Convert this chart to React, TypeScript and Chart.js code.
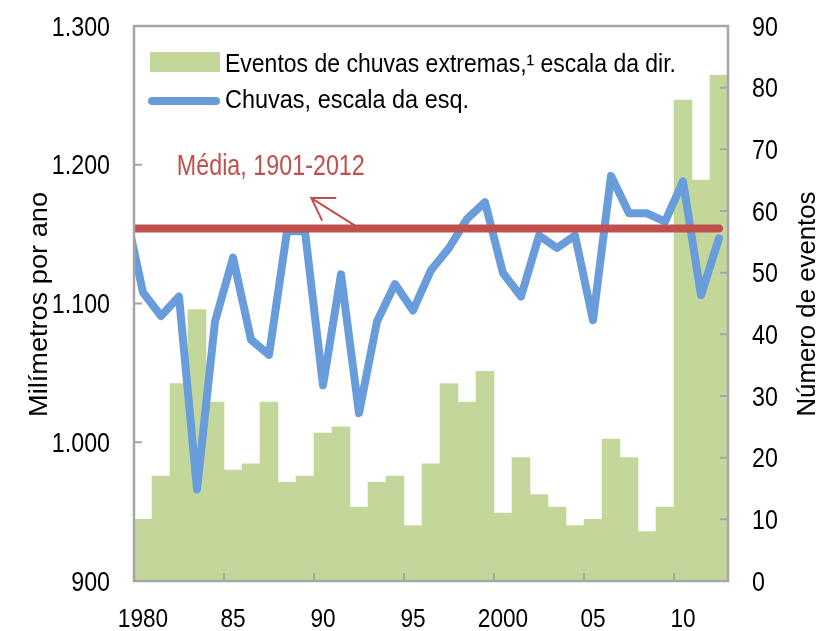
import React, { useEffect, useRef } from 'react';
import { Chart, registerables } from 'chart.js';

Chart.register(...registerables);

// ---------- data ----------
const years = [
  1980, 1981, 1982, 1983, 1984, 1985, 1986, 1987, 1988, 1989,
  1990, 1991, 1992, 1993, 1994, 1995, 1996, 1997, 1998, 1999,
  2000, 2001, 2002, 2003, 2004, 2005, 2006, 2007, 2008, 2009,
  2010, 2011, 2012,
];
const extremeEvents = [
  10, 17, 32, 44, 29, 18, 19, 29, 16, 17,
  24, 25, 12, 16, 17, 9, 19, 32, 29, 34,
  11, 20, 14, 12, 9, 10, 23, 20, 8, 12,
  78, 65, 82,
];
// rainfall series (mm/year); the 1979 value only shows as the clipped start of the line
const rainYears = [
  1979, 1980, 1981, 1982, 1983, 1984, 1985, 1986, 1987, 1988, 1989,
  1990, 1991, 1992, 1993, 1994, 1995, 1996, 1997, 1998, 1999,
  2000, 2001, 2002, 2003, 2004, 2005, 2006, 2007, 2008, 2009,
  2010, 2011, 2012,
];
const rainfall = [
  1168, 1108, 1091, 1105, 966, 1087, 1133, 1074, 1063, 1152, 1152,
  1041, 1121, 1021, 1087, 1114, 1095, 1124, 1140, 1161, 1173,
  1122, 1105, 1149, 1140, 1149, 1088, 1192, 1165, 1165, 1159,
  1188, 1106, 1147,
];
const meanValue = 1154;
const meanSpan = [1979.5, 2012];

const xTickYears = [1980, 1985, 1990, 1995, 2000, 2005, 2010];
const xTickLabels = ['1980', '85', '90', '95', '2000', '05', '10'];
const leftTicks = [900, 1000, 1100, 1200, 1300];
const leftTickLabels = ['900', '1.000', '1.100', '1.200', '1.300'];
const rightTicks = [0, 10, 20, 30, 40, 50, 60, 70, 80, 90];
const rightTickLabels = ['0', '10', '20', '30', '40', '50', '60', '70', '80', '90'];

const legendLabels = ['Eventos de chuvas extremas,\u00b9 escala da dir.', 'Chuvas, escala da esq.'];
const leftTitle = 'Milímetros por ano';
const rightTitle = 'Número de eventos';
const meanLabel = 'Média, 1901-2012';
// annotation anchors in data units (year, mm)
const meanLabelAnchor = { x: 1987.1, y: 1192.6 };
const arrowTip = { x: 1989.35, y: 1176 };
const arrowTail = { x: 1991.8, y: 1156 };

// ---------- styles ----------
const GREEN = '#C4D79B';
const BLUE = '#689CDA';
const RED = '#C0504D';
const AXIS_GRAY = '#A6A6A6';
const SANS = "'Liberation Sans', Arial, sans-serif";

// draw text with a horizontal squeeze (the source uses condensed lettering)
function drawText(
  ctx: CanvasRenderingContext2D, text: string, x: number, y: number, size: number,
  opts: { width?: number; squeeze?: number; align?: 'left' | 'center' | 'right'; color?: string; rot?: number },
) {
  ctx.save();
  ctx.font = `${size}px ${SANS}`;
  ctx.fillStyle = opts.color || '#000';
  ctx.textBaseline = 'alphabetic';
  ctx.textAlign = opts.align || 'left';
  const w = ctx.measureText(text).width;
  const k = opts.width ? opts.width / w : (opts.squeeze || 1);
  ctx.translate(x, y);
  if (opts.rot) ctx.rotate(opts.rot);
  ctx.scale(k, 1);
  ctx.fillText(text, 0, 0);
  ctx.restore();
}

const decorPlugin = {
  id: 'decor',
  afterDatasetsDraw(chart: any) {
    const { ctx, chartArea: a, scales } = chart;
    const x = scales.x, y = scales.y, y1 = scales.y1;
    ctx.save();
    // plot frame
    ctx.strokeStyle = AXIS_GRAY;
    ctx.lineWidth = 2.5;
    ctx.strokeRect(a.left, a.top, a.right - a.left, a.bottom - a.top);
    // inside tick marks
    ctx.lineWidth = 2;
    ctx.beginPath();
    leftTicks.forEach((v) => {
      const py = y.getPixelForValue(v);
      ctx.moveTo(a.left, py); ctx.lineTo(a.left + 8, py);
    });
    rightTicks.forEach((v) => {
      const py = y1.getPixelForValue(v);
      ctx.moveTo(a.right - 8, py); ctx.lineTo(a.right, py);
    });
    xTickYears.forEach((v) => {
      const px = x.getPixelForValue(v - 0.5);
      ctx.moveTo(px, a.bottom); ctx.lineTo(px, a.bottom - 8);
    });
    ctx.stroke();

    // mean annotation arrow
    const tx = x.getPixelForValue(arrowTip.x), ty = y.getPixelForValue(arrowTip.y);
    const sx = x.getPixelForValue(arrowTail.x), sy = y.getPixelForValue(arrowTail.y);
    const ang = Math.atan2(sy - ty, sx - tx);
    ctx.strokeStyle = RED;
    ctx.lineWidth = 2;
    ctx.beginPath();
    ctx.moveTo(sx, sy); ctx.lineTo(tx, ty);
    ctx.moveTo(tx + 25 * Math.cos(ang - 0.56), ty + 25 * Math.sin(ang - 0.56));
    ctx.lineTo(tx, ty);
    ctx.lineTo(tx + 25 * Math.cos(ang + 0.56), ty + 25 * Math.sin(ang + 0.56));
    ctx.stroke();
    ctx.restore();

    // mean label
    drawText(ctx, meanLabel, x.getPixelForValue(meanLabelAnchor.x), y.getPixelForValue(meanLabelAnchor.y), 29,
      { width: 188, align: 'center', color: RED });

    // tick labels, placed through the scales
    leftTicks.forEach((v, i) => {
      drawText(ctx, leftTickLabels[i], a.left - 24, y.getPixelForValue(v) + 9.5, 28, { squeeze: 0.83, align: 'right' });
    });
    rightTicks.forEach((v, i) => {
      drawText(ctx, rightTickLabels[i], a.right + 24, y1.getPixelForValue(v) + 9.5, 28, { squeeze: 0.83, align: 'left' });
    });
    xTickYears.forEach((v, i) => {
      drawText(ctx, xTickLabels[i], x.getPixelForValue(v), a.bottom + 45.5, 26, { squeeze: 0.87, align: 'center' });
    });
  },
  afterDraw(chart: any) {
    const { ctx } = chart;
    ctx.save();
    // legend
    ctx.fillStyle = GREEN;
    ctx.fillRect(150, 52, 70, 20);
    ctx.strokeStyle = BLUE;
    ctx.lineWidth = 8;
    ctx.lineCap = 'round';
    ctx.beginPath();
    ctx.moveTo(152, 101); ctx.lineTo(216, 101);
    ctx.stroke();
    ctx.restore();
    drawText(ctx, legendLabels[0], 225, 72, 26, { width: 451 });
    drawText(ctx, legendLabels[1], 225, 107.5, 26, { width: 244 });
    // axis titles
    drawText(ctx, leftTitle, 46.5, 304.5, 25, { width: 225, align: 'center', rot: -Math.PI / 2 });
    drawText(ctx, rightTitle, 815, 304, 25, { width: 225, align: 'center', rot: -Math.PI / 2 });
  },
};

export default function App() {
  const ref = useRef<HTMLCanvasElement>(null);
  useEffect(() => {
    if (!ref.current) return;
    const chart = new Chart(ref.current, {
      type: 'bar',
      data: {
        datasets: [
          {
            type: 'line',
            label: 'mean',
            data: meanSpan.map((yr) => ({ x: yr, y: meanValue })),
            yAxisID: 'y',
            borderColor: RED,
            borderWidth: 8,
            borderCapStyle: 'round',
            pointRadius: 0,
            clip: 0,
            order: 1,
          } as any,
          {
            type: 'line',
            label: legendLabels[1],
            data: rainYears.map((yr, i) => ({ x: yr, y: rainfall[i] })),
            yAxisID: 'y',
            borderColor: BLUE,
            borderWidth: 8,
            borderCapStyle: 'round',
            borderJoinStyle: 'round',
            tension: 0,
            pointRadius: 0,
            clip: 0,
            order: 2,
          } as any,
          {
            type: 'bar',
            label: legendLabels[0],
            data: years.map((yr, i) => ({ x: yr, y: extremeEvents[i] })),
            yAxisID: 'y1',
            backgroundColor: GREEN,
            borderWidth: 0,
            barPercentage: 1,
            categoryPercentage: 1,
            order: 3,
          } as any,
        ],
      },
      options: {
        responsive: false,
        animation: false,
        devicePixelRatio: 1,
        layout: { padding: { top: 26, left: 0, right: 0, bottom: 0 } },
        plugins: { legend: { display: false }, tooltip: { enabled: false } },
        scales: {
          x: {
            type: 'linear',
            offset: false,
            min: 1979.5,
            max: 2012.5,
            afterBuildTicks: (s: any) => { s.ticks = xTickYears.map((v) => ({ value: v })); },
            afterFit: (s: any) => { s.height = 50; },
            grid: { display: false, drawTicks: false },
            border: { display: false },
            ticks: { display: false, padding: 0 },
          },
          y: {
            type: 'linear',
            position: 'left',
            min: 900,
            max: 1300,
            afterBuildTicks: (s: any) => { s.ticks = leftTicks.map((v) => ({ value: v })); },
            afterFit: (s: any) => { s.width = 134; },
            grid: { display: false, drawTicks: false },
            border: { display: false },
            ticks: { display: false, padding: 0 },
          },
          y1: {
            type: 'linear',
            position: 'right',
            min: 0,
            max: 90,
            afterBuildTicks: (s: any) => { s.ticks = rightTicks.map((v) => ({ value: v })); },
            afterFit: (s: any) => { s.width = 91; },
            grid: { display: false, drawTicks: false },
            border: { display: false },
            ticks: { display: false, padding: 0 },
          },
        },
      } as any,
      plugins: [decorPlugin],
    });
    return () => chart.destroy();
  }, []);
  return (
    <div style={{ position: 'absolute', left: 0, top: 0, width: 819, height: 631, background: '#fff' }}>
      <canvas ref={ref} width={819} height={631} style={{ display: 'block' }} />
    </div>
  );
}
